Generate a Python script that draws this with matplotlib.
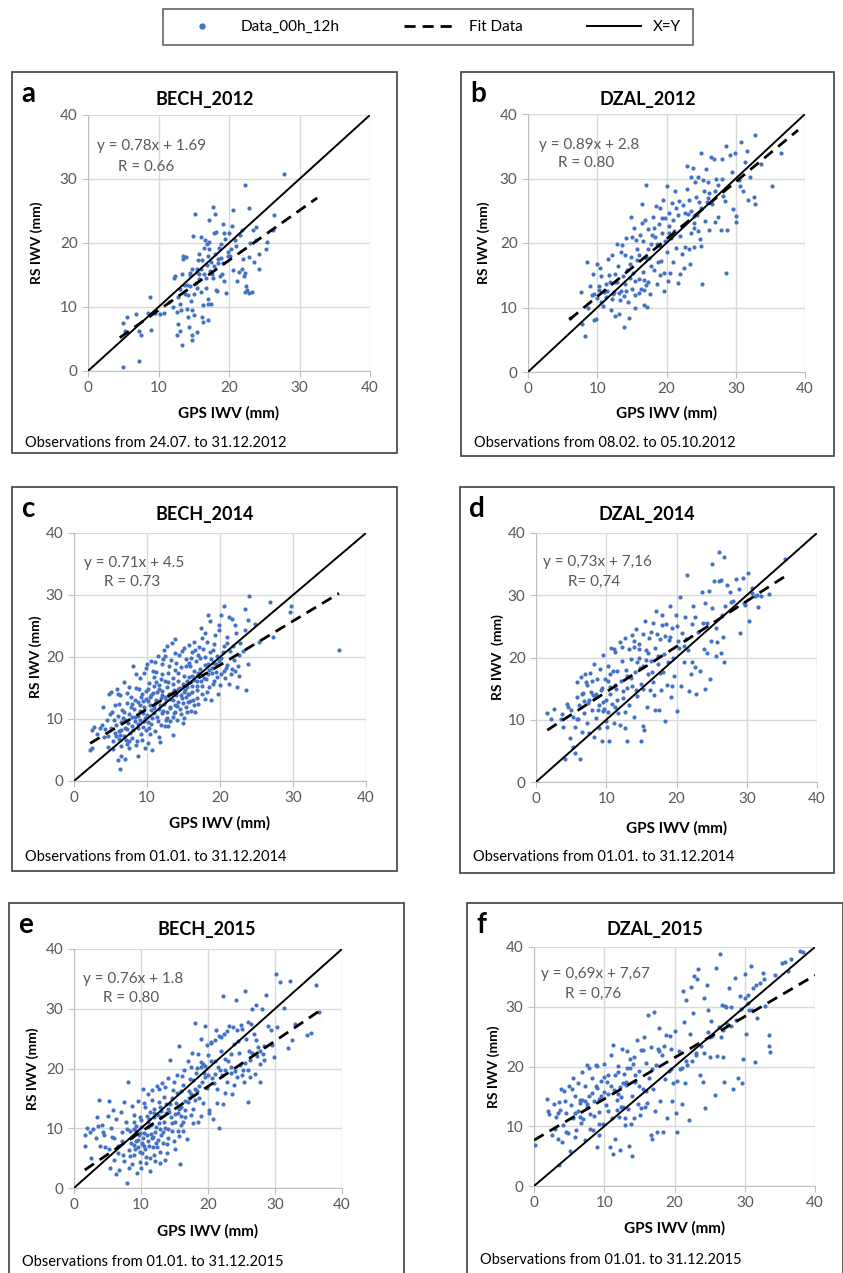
import matplotlib.pyplot as plt
import numpy as np
from matplotlib.lines import Line2D
from matplotlib.patches import Rectangle

plt.rcParams['font.family'] = ['Lato', 'DejaVu Sans']

# data (GPS IWV, RS IWV) in mm
bech12 = [(5,0.7),(7.3,1.6),(5,7.5),(5.3,6.2),(5.6,8.5),(6.8,8.9),(7.2,6.2),(7.5,5.6),(8.5,9),(8.8,11.6),
    (9,6.4),(9.5,9),(10.2,8.9),(10.8,9.1),(11.5,10.8),(12,10),(12.2,14.6),(12.3,14.9),(12.6,9.2),(12.6,5.7),
    (12.7,7.3),(13,6.2),(13,10.5),(13.2,9.5),(13.4,4.1),(13.5,17.5),(13.5,18),(13.6,13.5),(13.8,12),(13.9,17.8),
    (14,9.7),(14.2,8.4),(14.3,6.9),(14.4,15.3),(14.5,15),(14.6,11),(14.7,9.5),(14.8,5.6),(14.8,4.9),(14.9,21.1),
    (15,8.8),(15.2,24.5),(15.4,6.1),(15.4,15.5),(15.5,16),(15.6,17.3),(15.8,18.3),(15.8,15.2),(16,12.4),(16,21),
    (16.2,8.5),(16.3,7.6),(16.3,10.3),(16.5,19.2),(16.6,20.5),(16.7,13),(16.8,14.5),(16.9,19.8),(17,8),(17,11.3),
    (17,10.5),(17.1,20.1),(17.2,23.6),(17.4,10.5),(17.5,17),(17.6,15.2),(17.7,14.6),(17.8,25.6),(17.9,21.5),(18,24.5),
    (18,18.3),(18.1,12.7),(18.3,12.5),(18.5,16.8),(18.6,19.2),(18.7,14.8),(18.9,17.7),(19,15.2),(19.2,23),(19.3,21.6),
    (19.3,14.1),(19.6,12.2),(19.9,17.9),(20,21.5),(20.1,18),(20.3,19),(20.4,22.7),(20.5,25.2),(20.6,15.8),(21,19.5),
    (21.2,14),(21.4,15.5),(21.8,16),(21.8,22),(22,17.5),(22.1,14.8),(22.2,15.3),(22.3,29),(22.3,12.4),(22.4,13.3),
    (22.6,12.6),(22.8,25.5),(22.8,12.2),(22.9,17.8),(23,20),(23.3,12.3),(23.4,22.1),(23.5,17),(23.8,20.5),(23.9,22.5),
    (24.3,18.3),(24.3,16),(25.2,19),(25.4,20.2),(26.4,24.3),(27.8,30.8),(26.2,22),(14,13.4),(13.3,15.1),(14.5,13.3),
    (15.3,13.7),(15.8,14.4),(16.4,15.1),(16.9,16.6),(17.3,15.7),(17.9,16.4),(18.4,17.5),(19.1,16.9),(19.8,18.6),
    (14.2,11.8),(15,12.1),(16.1,17.3),(17,17.9),(18.8,19.9),(19.5,20.7),(13.1,12.8),(14.8,16),(15.5,13),(17.2,19),
    (18.2,21.7),(20.8,20.4),(21.5,21.3),(16,16),(12.8,11.5)]

dzal12 = [(6,8.4),(7.7,12.4),(7.8,7.4),(8.2,5.6),(8.5,17.1),(8.7,10),(9,13.3),(9.2,11.9),(9.4,15.2),(9.5,8.1),
    (9.6,12.1),(9.8,8.2),(10,16.7),(10,11.5),(10.2,12.7),(10.4,16.2),(10.5,14.9),(10.6,10.9),(10.8,10.3),(11,12.4),
    (11.2,13.6),(11.4,12.6),(11.6,17.5),(11.7,15.1),(11.9,13.9),(12,9.6),(12.1,18.2),(12.2,11.3),(12.4,12.4),(12.5,15.2),
    (12.6,8.7),(12.8,19.8),(12.9,13.9),(13,16.5),(13.1,9),(13.2,12.2),(13.3,11.2),(13.4,18.6),(13.5,12.5),(13.6,19.7),
    (13.8,7),(13.9,11.8),(14,18.2),(14,13.6),(14.2,20.8),(14.3,15.8),(14.4,10.9),(14.6,8.4),(14.7,14.6),(14.8,16.7),
    (14.9,24),(15,12.9),(15,20.9),(15.2,15.3),(15.3,22.3),(15.4,11.9),(15.5,9.9),(15.6,20.4),(15.8,17.3),(16,14.4),
    (16,12.3),(16.1,18.2),(16.2,21.2),(16.3,12.9),(16.5,23.1),(16.5,26),(16.6,15.5),(16.7,10.4),(16.8,12.7),(16.9,23.6),
    (17,13.5),(17.1,29),(17.2,10.1),(17.3,14),(17.4,22.2),(17.5,17.6),(17.6,12.1),(17.8,19.8),(17.9,21.2),(18,24.1),
    (18.2,15.8),(18.4,20.9),(18.5,25.8),(18.6,13.7),(18.8,17),(18.9,22.9),(19,25.4),(19.1,19.5),(19.2,17.2),(19.3,21.6),
    (19.5,26.6),(19.6,12.6),(19.7,15.3),(19.8,23.8),(20,18.6),(20,28.8),(20.2,14.1),(20.3,21.5),(20.4,24.7),(20.5,15.3),
    (20.6,20.7),(20.8,26.2),(21,17),(21,23.5),(21.2,28.1),(21.4,19.2),(21.6,24.4),(21.7,13.8),(21.8,26.5),(22,15.2),
    (22,21.1),(22.2,22.6),(22.4,25.9),(22.5,16.1),(22.7,19.4),(22.9,28.3),(23,32),(23.1,24.5),(23.2,19.1),(23.3,26.6),
    (23.4,16.7),(23.5,30.2),(23.6,21.5),(23.8,31.6),(23.9,23.1),(24,19.4),(24.1,29.4),(24.2,27.2),(24.4,24.4),(24.5,21.9),
    (24.6,30.2),(24.8,20.6),(25,34),(25,19.6),(25.1,13.6),(25.3,29.7),(25.5,23.4),(25.7,31.4),(25.8,26.3),(26,29.4),
    (26.2,22),(26.4,33.4),(26.6,26.1),(26.9,33),(27,23.2),(27.2,29.9),(27.4,24.1),(27.8,22),(28,33.1),(28.2,27.3),
    (28.4,26.5),(28.6,35),(28.6,15.3),(28.8,22),(29.1,33.6),(29.5,31),(29.6,25.2),(29.9,34),(30,23.3),(30,24.2),
    (30.4,29.7),(30.6,28.8),(30.8,35.6),(31.1,28.1),(31.3,32.5),(31.6,34.2),(31.8,26.6),(32,30.2),(32.8,36.7),(32.6,27.1),
    (32.8,26),(33.7,32.2),(35.3,28.8),(36.5,33.9),(28,30),(27,28),(26,27),(25,25.5),(24,24.2),
    (12.5,14),(13.7,14.9),(14.9,17.9),(15.8,19),(16.6,20.3),(17.4,19.1),(18.2,22.3),(19.3,23.9),(20.3,22.7),(21.3,25.5),
    (22.6,24.6),(23.5,24.9),(24.7,26.4),(25.4,28.1),(26.2,27.8),(27.4,29),(16.8,14.2),(17.8,16.4),(18.7,19.8),(19.8,20.3),
    (21.1,21.9),(22.2,18.3),(23.9,22.3),(11.3,11.6),(10.3,13.4),(12.3,12.1),(14.2,12.5),(15.5,14.1),(17,17.7),(19,15.1)]

bech14 = [(2.2,5),(2.5,5.3),(2.4,8.3),(2.8,8.7),(3.5,8.5),(3.8,9),(4,12),(4.1,7.1),(4.3,8.4),(4.6,7.2),
    (4.8,14),(4.9,10.8),(5,8.5),(5.1,14.3),(5.3,6.5),(5.4,5.2),(5.6,12.3),(5.8,9),(5.9,14.8),(6,10.5),
    (6,3.4),(6.2,6.7),(6.3,13.8),(6.3,2),(6.5,8.2),(6.5,4),(6.6,11.5),(6.8,15.9),(6.8,7.2),(7,3.6),
    (7,9.8),(7.2,6),(7.3,12.6),(7.5,10.8),(7.6,5.4),(7.8,13.6),(7.9,8.9),(8,7),(8.1,18.6),(8.2,11.6),
    (8.4,9.6),(8.5,15),(8.6,6.4),(8.8,4),(8.8,12.7),(9,16.6),(9,9.9),(9.2,7.6),(9.3,14.1),(9.5,11),
    (9.6,17.4),(9.7,5.3),(9.8,13.2),(9.9,8.2),(10,18.9),(10,10.7),(10.2,6.1),(10.3,15.8),(10.4,12.3),(10.5,19.4),
    (10.6,9.2),(10.7,5),(10.8,14.2),(10.9,11.7),(11,16.8),(11.1,8),(11.2,13.1),(11.3,17.6),(11.4,10.4),(11.5,20.2),
    (11.6,7.1),(11.7,15.5),(11.8,12.2),(11.9,9.1),(12,14.5),(12.1,18.9),(12.2,11.3),(12.3,21.1),(12.4,8.8),(12.5,16.2),
    (12.6,13),(12.7,10.2),(12.8,21.7),(12.9,17.5),(13,14.1),(13.1,9.6),(13.2,12),(13.3,19.5),(13.4,22.3),(13.5,15.6),
    (13.6,7.4),(13.7,11),(13.8,22.9),(13.9,17.9),(14,13.8),(14.1,9.9),(14.2,16.1),(14.3,12.7),(14.4,20.3),(14.5,15),
    (14.6,10.8),(14.7,18.4),(14.8,13.4),(14.9,9.3),(15,17),(15.1,21.4),(15.2,14.7),(15.3,11.9),(15.4,19.7),(15.5,16.1),
    (15.6,12.7),(15.7,22),(15.8,14),(15.9,18.5),(16,11.3),(16.1,20.8),(16.2,15.4),(16.3,13.1),(16.4,17.8),(16.5,22.4),
    (16.6,11.1),(16.7,19.3),(16.8,14.6),(16.9,16.9),(17,12.5),(17.1,21.6),(17.3,18.1),(17.4,24.7),(17.5,15.3),(17.6,23),
    (17.8,16.6),(17.9,13.3),(18,20),(18.2,22.5),(18.3,17.3),(18.4,26.8),(18.5,15.1),(18.6,25.8),(18.7,19.7),(18.8,13),
    (18.9,17.4),(19,21.2),(19.2,16.2),(19.3,23.5),(19.5,18.8),(19.7,14),(19.8,24.3),(20,15.5),(20.2,26.8),(20.4,20.8),
    (20.6,28.2),(20.7,16.6),(20.9,23.2),(21,18.7),(21.2,26.4),(21.4,21),(21.5,17.3),(21.7,26.1),(21.9,19.5),(22.2,23.8),
    (22.3,15.1),(22.5,18.5),(22.6,17),(22.7,22.2),(23.2,21),(23.4,27.7),(23.6,14.6),(23.8,25.9),(23.9,18.9),(24,29.9),
    (24.8,25.4),(25.3,22.4),(26.8,28.9),(27.3,23.3),(29.6,27.2),(29.7,28.2),(36.3,21.1),
    (5.5,9.8),(6.1,8.1),(6.9,11.2),(7.4,9.3),(7.7,7.8),(8.3,13.1),(8.7,10.5),(9.1,12.3),(9.4,8.7),(9.9,14.5),
    (10.1,12.9),(10.6,11.4),(10.9,15.3),(11.3,12.8),(11.6,14.9),(12,10.9),(12.4,13.6),(12.7,15.1),(13.1,11.7),(13.4,14.2),
    (13.8,12.3),(14.2,14.8),(14.5,11.6),(14.9,15.6),(15.3,13.5),(15.8,16.8),(16.2,14.3),(16.8,16.1),(17.3,17.2),(18.1,16.4),
    (18.9,18.2),(19.4,17.6),(10.4,7.6),(11.8,6.3),(8.1,8.2),(7.1,6.6),(9.6,9.7),(12.9,8.9),(13.6,10.4),(15.1,10.2),
    (16.5,12.2),(17.6,14.1),(5.8,7.3),(6.4,9.5),(7.2,14.2),(8.9,14.9),(10.8,17.8),(11.9,16.4),(12.2,19.6),(14,19.1),
    (15.4,18.6),(17,20.4),(18.6,20.8),(19.9,19.3),(20.5,17.7),(21.2,15.7),
    (6.2,12.4),(6.7,10.1),(7.3,8.4),(7.8,11.9),(8.3,10.3),(8.7,8.5),(9.2,13.6),(9.6,11.9),(10.1,9.5),(10.5,13.9),
    (11,10.9),(11.4,14.3),(11.9,13.4),(12.3,12.5),(12.8,11.2),(13.2,13.3),(13.7,14.7),(14.1,12.1),(14.6,13.9),(15,14.3),
    (15.5,15.1),(15.9,12.9),(16.4,16.3),(16.9,15.3),(17.4,16.1),(17.9,18.7),(18.4,18.9),(19.1,15.7),(19.6,16.8),(20.1,17.3),
    (20.8,18.2),(21.6,18.1),(22.1,17.7),(6.5,5.6),(7.6,6.4),(8.5,5.8),(9.3,6.6),(10.3,8.5),(11.5,9.7),(12.6,9.9),
    (13.9,11.2),(15.5,11.1),(16.8,13.4),(18.2,14.4),(9,11.3),(10.2,14.8),(11.2,16),(12,17.2),(13,18.5),(13.9,20.6),
    (14.8,20.9),(16,19.9),(17.7,21.3),(19.2,22.1),(20.6,21.8),(8.5,17.3),(9.8,18.2),(11.1,19.2),(12.5,20.1),(7.5,15.2),
    (6,14.1),(5.2,11.1),(4.5,9.9),(3.2,7.6),(4.6,5.5),(5.6,7.8),(18,23.9),(17.2,19.9),(16.6,21.1),(15.7,19.1),
    (14.3,17.5),(13.5,16.6),(12.9,15.9),(11.7,11.6),(10.7,10.2),(9.7,10.2),(8.8,9.2),(7.9,10.3),(7,8.5),(6.3,7.4),
    (8,12.4),(9.5,12.9),(10.4,13.5),(11,12.2),(12.1,13.9),(13.6,13),(14.9,12.6),(15.6,14),(16.2,17),(17,17.5),
    (18.5,17.9),(19.6,20.2),(20.2,19.8),(21,22.3),(21.8,21.7),(22.6,20.4),(22.1,25.1),(19.9,25.2),(19,19),(23.4,24.3)]

dzal14 = [(1.6,11.1),(2.2,10.1),(2.5,11.8),(3.5,10.2),(3.7,10.9),(3.9,8.9),(4.1,3.7),(4.4,12.5),(4.6,12),(4.9,7),
    (5,11.6),(5.2,5.7),(5.3,10.5),(5.5,4.6),(5.6,8.9),(5.8,13.6),(5.9,16),(6,10.1),(6.1,12.3),(6.3,3.7),
    (6.4,16.9),(6.5,8.1),(6.7,14.3),(6.9,11.1),(7,17.4),(7.2,9.5),(7.3,15.6),(7.5,13.2),(7.6,7.8),(7.7,17.5),
    (7.9,14.5),(8,11.6),(8.2,7.2),(8.3,18.9),(8.4,13.7),(8.6,10.3),(8.7,16.5),(8.9,12.3),(9,8.7),(9.1,18.2),
    (9.3,14.8),(9.4,6.6),(9.5,11.4),(9.6,20.4),(9.8,16.6),(9.9,9.8),(10,13.2),(10.2,18.6),(10.3,11.3),(10.4,6.6),
    (10.5,15.2),(10.7,21.5),(10.8,12.5),(11,17.9),(11.1,9.5),(11.3,20.9),(11.4,14.9),(11.6,17.9),(11.7,11.1),(11.9,22.5),
    (12,9.2),(12.1,16.3),(12.3,19.4),(12.4,13.5),(12.6,23.1),(12.7,8.7),(12.9,6.6),(13,17.1),(13.2,21.3),(13.3,12.4),
    (13.5,19.8),(13.6,23.6),(13.7,15.4),(13.9,10.4),(14,21.7),(14.1,17.6),(14.3,24.5),(14.4,13.8),(14.6,19.9),(14.7,22.1),
    (14.9,15.8),(15,6.6),(15.2,18.7),(15.3,9),(15.4,8.3),(15.5,25.8),(15.6,21.2),(15.8,12.1),(15.9,17.3),(16.1,23.1),
    (16.2,14.7),(16.4,19.4),(16.6,25.6),(16.7,16.1),(16.9,21.6),(17,11.6),(17.1,27.5),(17.3,18.9),(17.5,11.6),(17.6,22.9),
    (17.8,14.8),(17.9,26.8),(18.1,17.6),(18.2,20.5),(18.4,9.8),(18.5,25.4),(18.7,15.6),(18.9,22.8),(19.1,28.2),(19.2,13.6),
    (19.4,24.8),(19.5,20),(19.7,17.1),(19.9,26.9),(20.1,11.4),(20.2,22.7),(20.5,29.7),(20.6,15.5),(20.8,24),(21,19.3),
    (21.2,26.5),(21.5,33.3),(21.7,21.2),(21.8,14.6),(22,17.3),(22.2,25.4),(22.4,28.3),(22.7,18.4),(22.8,14.1),(23.1,24.1),
    (23.4,17.8),(23.6,30.5),(23.8,25.5),(24,15),(24.1,28.8),(24.3,20.8),(24.6,30.7),(24.7,16.5),(24.9,22.7),(25,35),
    (25.1,27.9),(25.3,32.3),(25.6,20.2),(25.8,22.5),(26,32.3),(26,36.9),(26.3,32.4),(26.4,20.7),(26.6,23.3),(26.7,36.2),
    (26.8,19.3),(26.9,28.2),(27.2,31.7),(27.6,30.5),(28,29),(28.5,32.6),(28.9,31),(29.1,24),(29.5,32.7),(29.8,28.5),
    (30.2,33.6),(30.3,25.9),(30.7,31.1),(31.2,29.8),(31.6,28.1),(32,29.9),(33.2,30.2),(35.5,35.8),(8.1,13.9),(9.4,15.1),
    (11.2,15.6),(12.8,18),(14.4,19.2),(16,20.8),(17.4,20.3),(18.8,19.2),(20.4,21.5),(10.6,17.3),(12.4,14.6),(6.6,14.1),
    (7.4,12.7),(10.1,8.8),(8.8,11.5),
    (9.5,12.8),(10.6,14.1),(11.6,13.2),(12.9,15.1),(13.5,16.7),(14.8,18.3),(15.7,19.6),(16.5,17.6),(17.2,23.8),(18.3,23.5),
    (19.1,23.3),(20,25.1),(21.3,23),(22.6,26.5),(24.4,25.6),(25.6,24.8),(26.5,26.9),(27.7,28.9),(29.6,28.8),(30.8,30.3),
    (31.5,30.1),(13.9,22.6),(12.2,21.7),(11.1,21.3),(14.7,21.3),(15.2,23.8),(16.4,24.1),(18,25.3),(7.1,16.1),(8,16.2),
    (5.8,10.1),(6.8,13),(8.5,14.2),(10.3,16.3),(9.7,11.7),(11.3,12.1),(12.6,11.3),(14.2,14.7),(15.3,14.9),(16.8,13.9),
    (17.7,17.5),(19.4,15.5),(21,21.9),(22.2,19.3),(23.9,21.4)]

bech15 = [(1.7,7.1),(1.7,8.8),(2,10),(2.5,5.1),(2.8,9.8),(3.3,8.3),(3.5,11.9),(3.8,14.8),(3.9,7),(4.2,10.6),
    (4.5,8.8),(4.7,6.9),(5,12),(5.2,14.5),(5.4,3.3),(5.5,10.1),(5.6,8.5),(5.8,13),(6,4.7),(6.2,11.5),
    (6.3,2.3),(6.5,7.1),(6.7,3),(7,12.7),(7.1,9.4),(7.3,5.6),(7.5,14.4),(7.8,11),(7.9,0.9),(8,17.8),
    (8.2,6.4),(8.4,9.6),(8.6,13.7),(8.7,4),(8.9,7.2),(9,12.2),(9.2,10.4),(9.4,2.5),(9.5,8.1),(9.6,14.6),
    (9.8,6),(10,11.3),(10,3.3),(10.2,7.6),(10.3,16.5),(10.5,9.2),(10.6,13.5),(10.8,5.2),(11,15.8),(11,7.9),
    (11.2,11.5),(11.4,2.9),(11.5,9),(11.6,16.4),(11.8,6.9),(12,13.3),(12.1,4.5),(12.3,10.2),(12.4,17.1),(12.6,8),
    (12.7,14.4),(12.9,6.1),(13,11.8),(13.2,17.6),(13.3,9.3),(13.5,15.2),(13.6,4.7),(13.8,12.6),(14,18.4),(14.1,8.4),
    (14.3,21.5),(14.4,14),(14.6,10.8),(14.8,16.4),(15,6.6),(15.1,12.4),(15.3,18.9),(15.5,9.6),(15.6,23.7),(15.7,13.2),
    (15.8,4.1),(16,16.3),(16.2,11.1),(16.4,19.8),(16.6,14.5),(16.8,8.2),(17,21.2),(17.2,16.3),(17.4,12.2),(17.6,22.6),
    (17.8,18.1),(18,27.6),(18.1,14.7),(18.3,20.1),(18.5,11),(18.7,17.1),(18.9,24.9),(19,21.1),(19.2,14.2),(19.4,19.3),
    (19.6,27.1),(19.8,16.7),(20,22.3),(20.2,13.1),(20.4,24.5),(20.6,18.4),(20.8,11.5),(21,21.2),(21.2,26.5),(21.4,16.5),
    (21.6,10),(21.8,19.8),(22,25.2),(22.2,32.1),(22.3,14.1),(22.6,21.6),(22.9,17.7),(23.2,27.1),(23.4,20.3),(23.6,15.7),
    (23.9,24.1),(24.2,31.4),(24.4,18.6),(24.6,22.6),(24.9,27.2),(25.2,19.8),(25.5,32.9),(25.7,24.9),(26,14.4),(26.2,21.5),
    (26.5,30),(26.8,25.7),(27,19),(27.4,23.6),(27.7,20.8),(28,29.9),(28.3,23.7),(28.6,32.3),(28.9,27.1),(29.4,26.5),
    (29.9,22),(30.1,35.8),(30.3,27),(30.7,34.4),(31.3,30.2),(32,23.4),(32.2,34.6),(32.6,24.8),(33,27.4),(34.8,25.6),
    (35.4,26),(36.1,34),(36.6,29.5),(8.5,7.5),(9.1,6.6),(9.7,8.8),(10.4,7),(11,10.2),(11.6,8.3),(12.2,7.5),
    (12.8,9.8),(13.4,11),(10.1,5.8),(9.3,9.5),(11.3,12.8),(12.5,12.2),(14.2,12.8),(15.2,14.2),(16,13.6),(17.1,15),
    (18.4,16.2),(19.6,18.5),(20.9,17.6),(22.1,18.9),(23.5,19.3),(24.8,20.6),(26.1,23),(27.3,22.1),(13.9,7.3),(14.7,9.5),
    (15.9,10.5),(16.5,11.8),(17.7,13.2),(12,5.5),(10.7,4.2),(8.3,5.4),
    (8.6,8.6),(8.9,5.6),(9.2,7.9),(9.5,6.9),(9.8,9.2),(10.1,7.3),(10.3,8.4),(10.6,6.5),(10.9,8.8),(11.2,7.1),
    (11.5,10.6),(11.8,8.6),(12.1,9.4),(12.4,6.9),(12.7,10.8),(13,8.9),(13.3,7.6),(13.6,10.1),(14,9.9),(14.5,11.8),
    (9,9.8),(10,10.2),(11,11),(12,11.9),(13,12.9),(14,13.2),(15,11),(15.5,12.5),(16,12),(16.6,13.1),
    (17,14.4),(17.5,15.8),(18,16.5),(18.6,15),(19.1,17.7),(19.5,20.5),(20,18.9),(20.5,21.3),(21,19.1),(21.5,20.2),
    (22,22.9),(22.5,19.7),(23,21.3),(23.5,22.4),(24,19.5),(24.5,24.6),(25,18.9),(25.5,21),(26,19.7),(26.6,22.6),
    (27.2,24.8),(27.8,23),(28.4,21.5),(18.9,20.2),(19.3,20.8),(18.2,19.3),(17.3,18.3),(16.3,17.2),(15.4,15.9),(14.6,15),
    (13.8,14),(12.9,13.6),(11.9,12.6),(10.9,12.1),(9.9,11.9),(8.9,11.1),(7.9,9.9),(7.2,7.9),(6.6,5.8),(6,8.4),
    (5.2,6.5),(4.3,9.3),(3.6,10.3),(2.4,9.3),(7.5,4.5),(8.2,3.4),(9.9,4.3),(11.3,5.1),(12.8,4.2),(13.9,5.9),
    (14.9,7.8),(15.7,8.7),(16.3,9.5),(17.8,10.8),(19,12.1),(20.1,12.6),(21.3,14.2),(22.6,15.9),(23.9,17.2),(25.4,17.8),
    (26.3,18.6),(27.7,17.7),(28.2,22.4),(29.5,24),(10.5,14.3),(11.7,14.8),(12.7,16.5),(13.6,16.9),(14.9,17.7),(16.1,18.7),
    (17.5,20.2),(18.5,22.4),(19.9,24),(21.1,24.7),(22.4,25.8),(23.8,26.9),(25.1,26.6),(26.4,27.4),(27.1,30.7),(25.9,27.7),
    (24.4,26.5),(22.9,26.2),(21.6,25.5),(20.4,24.2)]

dzal15 = [(0.1,6.9),(1.9,14.5),(2,12.5),(2.1,12.1),(2.5,8.5),(2.8,13.8),(3,9.5),(3.2,11.5),(3.4,7.8),(3.5,3.5),
    (3.6,14),(3.7,12.8),(3.9,16.3),(4,7.3),(4.1,10.2),(4.3,15.9),(4.5,9),(4.6,12.2),(4.9,8.9),(5,16.7),
    (5.1,5.8),(5.3,13.5),(5.5,18),(5.6,11.3),(5.8,15.1),(6,9.3),(6.2,17.2),(6.3,12.6),(6.5,14.4),(6.7,10.5),
    (6.9,19.1),(7,11.2),(7.2,7.7),(7.3,16.7),(7.5,13.3),(7.6,20.3),(7.8,15.1),(8,12),(8.2,18.1),(8.4,9.4),
    (8.6,14.3),(8.8,16.8),(8.9,6.5),(9,20.1),(9.2,12.4),(9.3,8.6),(9.5,17.6),(9.6,15),(9.8,10.4),(10,20.5),
    (10.2,13.5),(10.4,17.4),(10.6,15.4),(10.8,6.5),(11,21.9),(11.1,11.3),(11.2,23.6),(11.3,5.4),(11.5,18.6),(11.6,7.8),
    (11.8,14.4),(12,20.1),(12.1,11.6),(12.2,6),(12.3,16.5),(12.5,22.9),(12.6,13.2),(12.8,18.8),(13,10.2),(13.1,16.9),
    (13.2,22.6),(13.4,12.9),(13.5,6.7),(13.7,19.7),(13.8,10.3),(13.9,5.1),(14,15.1),(14.2,21.6),(14.4,17.4),(14.6,24.4),
    (14.8,13.8),(15,19.3),(15.1,11.8),(15.3,22.8),(15.5,16.2),(15.6,25),(15.8,13.3),(16,20.6),(16.2,28.6),(16.4,18),
    (16.6,8.6),(16.7,23.2),(16.8,7.8),(17,16.3),(17.1,29.1),(17.3,20.3),(17.5,9),(17.6,23),(17.8,26.4),(18,14.2),
    (18.2,21.9),(18.4,9.1),(18.6,17.9),(18.8,25.2),(19,11.4),(19.2,19.2),(19.4,25.1),(19.6,14.3),(19.8,17.2),(20,26),
    (20.2,12.2),(20.4,9),(20.6,22.6),(20.8,19.6),(21,13.8),(21.2,32.7),(21.4,27.4),(21.5,17.3),(21.7,31.2),(21.8,20.3),
    (22,11),(22.2,25.4),(22.4,33.3),(22.6,28.9),(22.8,35.2),(23,22),(23.2,34.6),(23.4,36.3),(23.6,18.6),(23.8,23.4),
    (24,17.4),(24.2,31.4),(24.4,13.1),(24.6,33.6),(24.8,29.5),(25,21.6),(25.2,27.6),(25.4,25.1),(25.7,15.2),(25.9,36.5),
    (26.1,21.7),(26.3,26.6),(26.5,38.8),(26.7,30.3),(26.9,21.6),(27.1,17.4),(27.3,29.9),(27.5,27.1),(27.8,33.1),(28,26.8),
    (28.3,16.3),(28.6,34.8),(28.8,27.8),(29,18.1),(29.3,31.8),(29.6,17.2),(29.8,21.2),(30,35.5),(30.2,25.5),(30.4,32),
    (30.6,29.5),(30.9,36.8),(31.2,33.1),(31.5,20.8),(31.8,28.1),(32.2,33.9),(32.6,35.7),(32.9,30.2),(33.4,25.2),(33.6,22.4),
    (33.5,23.5),(34.3,35.3),(35.3,37.3),(35.8,37.5),(36.2,35.9),(36.6,38),(37.8,39.3),(38.3,39.2),(9.3,14.6),(10.9,16.8),
    (12.6,17.3),(14.4,18.5),(5.8,12.2),(7.2,14.2),(8.5,11.7),(10.5,12.6),(11.9,15.4),(13.3,19.8),(16.1,13.9),(17.2,12.5),
    (19.5,22.9),(21.1,19.8),(22.5,20.9),(24.8,25.8),
    (6.9,14.4),(6.5,13.9),(7.6,13.8),(8.3,15.5),(9,16.4),(9.9,15.8),(10.6,18.5),(11.4,16.1),(12.4,14.9),(13.1,17.4),
    (14.1,20.4),(14.9,16.8),(15.9,15.9),(16.8,19.6),(17.8,22.6),(18.5,23.4),(19.5,19.6),(20.4,17.5),(21.6,20.9),(23.1,22.3),
    (25,25),(26.9,26.1),(27.2,30.1),(29.4,29.7),(30.5,30.6),(31,29.5),(30,31.4),(31.6,33.6),(32.8,34.6),(28,30),
    (26.6,24.9),(24.2,22.2),(5.4,16.2),(4.4,14.2),(3.4,12.2),(7.8,19.8),(8.8,20.2),(10,18.3),(12,19.1),(13.6,21.2),
    (15.5,22.7),(12.4,13.2),(9.3,10.3),(8,9.5),(6.6,11.5),(5.9,8.2),(13,11.3),(14.3,11.4),(15.3,13.1),(11.8,12.8)]

letters = ['a', 'b', 'c', 'd', 'e', 'f']
titles = ['BECH_2012', 'DZAL_2012', 'BECH_2014', 'DZAL_2014', 'BECH_2015', 'DZAL_2015']
equations = ['y = 0.78x + 1.69', 'y = 0.89x + 2.8', 'y = 0.71x + 4.5',
             'y = 0,73x + 7,16', 'y = 0.76x + 1.8', 'y = 0,69x + 7,67']
r_texts = ['R = 0.66', 'R = 0.80', 'R = 0.73', 'R= 0,74', 'R = 0.80', 'R = 0,76']
slopes = [0.78, 0.89, 0.71, 0.73, 0.76, 0.69]
intercepts = [1.69, 2.8, 4.5, 7.16, 1.8, 7.67]
fit_ranges = [(4.5, 32.5), (6, 39), (2.2, 36.3), (1.6, 35.5), (1.6, 36.5), (0, 40)]
periods = ['Observations from 24.07. to 31.12.2012', 'Observations from 08.02. to 05.10.2012',
           'Observations from 01.01. to 31.12.2014', 'Observations from 01.01. to 31.12.2014',
           'Observations from 01.01. to 31.12.2015', 'Observations from 01.01. to 31.12.2015']
ylabels = ['RS IWV (mm)', 'RS IWV (mm)', 'RS IWV (mm)', 'RS IWV  (mm)', 'RS IWV (mm)', 'RS IWV (mm)']
datasets = [bech12, dzal12, bech14, dzal14, bech15, dzal15]

W, H = 843, 1273
def fx(p): return p / W
def fy(p): return 1 - p / H

# layout in pixels: plot area (x0, x40, y0, y40), box (left, top, right, bottom)
plot_px = [(88, 370, 371, 115), (528, 805, 372, 114), (74, 366, 781, 533),
           (536, 817, 782, 533), (74, 342, 1188, 949), (534, 815, 1186, 947)]
box_px = [(12, 72, 397, 453), (461, 72, 834, 456), (12, 487, 397, 871),
          (460, 487, 834, 873), (9, 903, 404, 1280), (467, 903, 843, 1280)]
ylab_x = [37, 484, 36, 498, 33, 494]
xlab_y = [413, 413, 823, 828, 1231, 1228]
obs_y = [443, 443, 857, 857, 1262, 1260]
eq_pos = [(1.3, 35.2), (1.6, 35.2), (1.4, 35.2), (1.0, 35.3), (1.4, 35.0), (1.0, 35.4)]
r_pos = [(4.2, 31.9), (4.3, 32.4), (4.1, 32.1), (4.6, 32.2), (4.4, 31.8), (4.4, 32.2)]

blue = '#4472C4'
grey = '#595959'

fig = plt.figure(figsize=(W / 100, H / 100), dpi=100)

for i in range(6):
    x0, x40, y0, y40 = plot_px[i]
    bl, bt, br, bb = box_px[i]
    fig.patches.append(Rectangle((fx(bl), fy(bb)), fx(br - bl), (bb - bt) / H, transform=fig.transFigure,
                                 fill=False, edgecolor='#404040', linewidth=1.2))
    ax = fig.add_axes([fx(x0), fy(y0), (x40 - x0) / W, (y0 - y40) / H])
    d = np.array(datasets[i])
    ax.scatter(d[:, 0], d[:, 1], s=9, color=blue, linewidths=0, zorder=3)
    fr = np.array(fit_ranges[i])
    ax.plot(fr, slopes[i] * fr + intercepts[i], color='black', linestyle=(0, (4, 2.5)), linewidth=2, zorder=4)
    ax.plot([0, 40], [0, 40], color='black', linewidth=1.4, zorder=4)
    ax.set_xlim(0, 40)
    ax.set_ylim(0, 40)
    ax.set_xticks([0, 10, 20, 30, 40])
    ax.set_yticks([0, 10, 20, 30, 40])
    ax.grid(True, color='#D9D9D9', linewidth=1)
    ax.set_axisbelow(True)
    for s in ['top', 'right']:
        ax.spines[s].set_visible(False)
    for s in ['left', 'bottom']:
        ax.spines[s].set_color('#BFBFBF')
    ax.tick_params(colors='#BFBFBF', labelcolor=grey, labelsize=11, length=4)
    ax.text(eq_pos[i][0], eq_pos[i][1], equations[i], fontsize=11, color=grey, va='center')
    ax.text(r_pos[i][0], r_pos[i][1], r_texts[i], fontsize=11, color=grey, va='center')
    # panel texts
    fig.text(fx(bl + 9), fy(bt + 22), letters[i], fontsize=20, fontweight='bold', va='center')
    fig.text(fx((bl + br) / 2), fy(bt + 27), titles[i], fontsize=13, fontweight='bold', ha='center', va='center')
    fig.text(fx((x0 + x40) / 2), fy(xlab_y[i]), 'GPS IWV (mm)', fontsize=11, fontweight='bold', ha='center', va='center')
    fig.text(fx(ylab_x[i]), fy((y0 + y40) / 2), ylabels[i], fontsize=10, fontweight='bold', rotation=90,
             ha='center', va='center')
    fig.text(fx(bl + 13), fy(obs_y[i]), periods[i], fontsize=10.5, va='center')

handles = [Line2D([], [], marker='o', linestyle='none', color=blue, markersize=3.5),
           Line2D([], [], color='black', linestyle=(0, (4, 2.5)), linewidth=2),
           Line2D([], [], color='black', linewidth=1.4)]
leg = fig.legend(handles, ['Data_00h_12h', 'Fit Data', 'X=Y'], loc='center', ncol=3,
                 bbox_to_anchor=(fx(428), fy(27)), frameon=True, fancybox=False, edgecolor='#404040',
                 fontsize=11, handlelength=3.5, columnspacing=4.2, borderpad=0.75)
leg.get_frame().set_linewidth(1.2)

fig.savefig('out.png', dpi=100)
